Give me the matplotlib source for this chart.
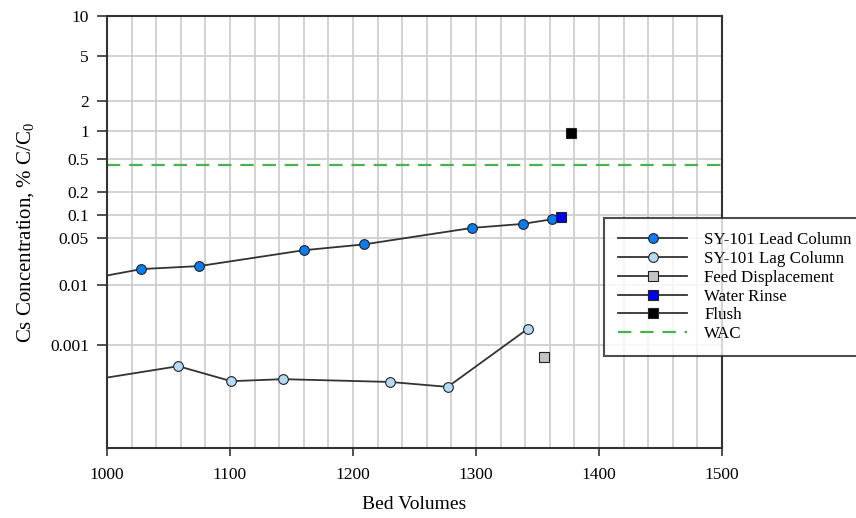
import math
import numpy as np
import matplotlib
matplotlib.use("Agg")
import matplotlib.pyplot as plt
from matplotlib.ticker import FixedLocator, MultipleLocator, NullFormatter

plt.rcParams["font.family"] = ["Liberation Serif", "DejaVu Serif"]
plt.rcParams["mathtext.fontset"] = "custom"
plt.rcParams["mathtext.rm"] = "Liberation Serif"
plt.rcParams["mathtext.it"] = "Liberation Serif:italic"

# ---- data (Cs concentration in % C/C0 vs bed volumes) ----
lead_bv = [1000, 1028, 1075, 1160, 1209, 1297, 1338, 1362]
lead_pct = [0.0139, 0.0174, 0.0193, 0.033, 0.040, 0.068, 0.077, 0.089]

lag_bv = [1000, 1058, 1101, 1143, 1230, 1277, 1342]
lag_pct = [0.000255, 0.000415, 0.000218, 0.000238, 0.000211, 0.00017, 0.0019]

feed_bv = [1355]
feed_pct = [0.00061]

rinse_bv = [1369]
rinse_pct = [0.094]

flush_bv = [1377]
flush_pct = [0.95]

wac_pct = 0.42

y_ticks = [0.001, 0.01, 0.05, 0.1, 0.2, 0.5, 1, 2, 5, 10]
y_tick_labels = ["0.001", "0.01", "0.05", "0.1", "0.2", "0.5", "1", "2", "5", "10"]
x_ticks = [1000, 1100, 1200, 1300, 1400, 1500]


# ---- normal-probability axis (percent -> standard normal quantile) ----
def _ppf_scalar(p):
    a = [-3.969683028665376e+01, 2.209460984245205e+02, -2.759285104469687e+02,
         1.383577518672690e+02, -3.066479806614716e+01, 2.506628277459239e+00]
    b = [-5.447609879822406e+01, 1.615858368580409e+02, -1.556989798598866e+02,
         6.680131188771972e+01, -1.328068155288572e+01]
    c = [-7.784894002430293e-03, -3.223964580411365e-01, -2.400758277161838e+00,
         -2.549671348283254e+00, 4.374664141464968e+00, 2.938163982698783e+00]
    d = [7.784695709041462e-03, 3.224671290700398e-01, 2.445134137142996e+00,
         3.754408181773592e+00]
    plow = 0.02425
    if p < plow:
        q = math.sqrt(-2 * math.log(p))
        x = (((((c[0]*q + c[1])*q + c[2])*q + c[3])*q + c[4])*q + c[5]) / \
            ((((d[0]*q + d[1])*q + d[2])*q + d[3])*q + 1)
    elif p > 1 - plow:
        q = math.sqrt(-2 * math.log(1 - p))
        x = -(((((c[0]*q + c[1])*q + c[2])*q + c[3])*q + c[4])*q + c[5]) / \
            ((((d[0]*q + d[1])*q + d[2])*q + d[3])*q + 1)
    else:
        q = p - 0.5
        r = q * q
        x = (((((a[0]*r + a[1])*r + a[2])*r + a[3])*r + a[4])*r + a[5]) * q / \
            (((((b[0]*r + b[1])*r + b[2])*r + b[3])*r + b[4])*r + 1)
    # one Newton refinement step
    e = 0.5 * math.erfc(-x / math.sqrt(2)) - p
    u = e * math.sqrt(2 * math.pi) * math.exp(x * x / 2)
    return x - u / (1 + x * u / 2)


_ppf = np.vectorize(_ppf_scalar, otypes=[float])
_erfc = np.vectorize(math.erfc, otypes=[float])


def pct_to_z(v):
    p = np.clip(np.asarray(v, dtype=float) / 100.0, 1e-15, 1 - 1e-15)
    return _ppf(p)


def z_to_pct(z):
    z = np.asarray(z, dtype=float)
    return 100.0 * 0.5 * _erfc(-z / math.sqrt(2))


# ---- figure ----
fig = plt.figure(figsize=(8.56, 5.18), dpi=100)
ax = fig.add_axes([107 / 856, 1 - 448 / 518, (722 - 107) / 856, (448 - 16) / 518])
ax.set_yscale("function", functions=(pct_to_z, z_to_pct))
ax.set_ylim(1e-5, 10)
ax.set_xlim(1000, 1500)

ax.yaxis.set_major_locator(FixedLocator(y_ticks))
ax.set_yticklabels(y_tick_labels)
ax.yaxis.set_minor_locator(FixedLocator([]))
ax.yaxis.set_minor_formatter(NullFormatter())

ax.xaxis.set_major_locator(FixedLocator(x_ticks))
ax.xaxis.set_minor_locator(MultipleLocator(20))
ax.set_xticklabels([str(t) for t in x_ticks])

grid_kw = dict(color="#cfcfcf", linewidth=1.3)
ax.grid(True, axis="x", which="both", **grid_kw)
ax.grid(True, axis="y", which="major", **grid_kw)
ax.set_axisbelow(True)

ax.tick_params(axis="both", which="major", direction="out", width=1.2,
               labelsize=12.5, color="#333333")
ax.tick_params(axis="y", which="major", length=7, pad=6)
ax.tick_params(axis="x", which="major", length=6, pad=8)
ax.tick_params(axis="x", which="minor", length=0)
for s in ax.spines.values():
    s.set_color("#333333")
    s.set_linewidth(1.5)

line_kw = dict(color="#333333", linewidth=1.3)
mk_kw = dict(markeredgecolor="#222222", markeredgewidth=0.8)

ax.plot(lead_bv, lead_pct, marker="o", markersize=7, markerfacecolor="#0a7cf0",
        markevery=list(range(1, len(lead_bv))), label="SY-101 Lead Column",
        zorder=3, **line_kw, **mk_kw)
ax.plot(lag_bv, lag_pct, marker="o", markersize=7, markerfacecolor="#b4daf5",
        markevery=list(range(1, len(lag_bv))), label="SY-101 Lag Column",
        zorder=3, **line_kw, **mk_kw)
ax.plot(feed_bv, feed_pct, marker="s", markersize=7, markerfacecolor="#c4c4c4",
        label="Feed Displacement", zorder=4, **line_kw, **mk_kw)
ax.plot(rinse_bv, rinse_pct, marker="s", markersize=7, markerfacecolor="#0000ee",
        label="Water Rinse", zorder=4, **line_kw, **mk_kw)
ax.plot(flush_bv, flush_pct, marker="s", markersize=7, markerfacecolor="#000000",
        label="Flush", zorder=4, **line_kw, **mk_kw)
ax.axhline(wac_pct, color="#4caf50", linewidth=1.6, dashes=(6, 4), label="WAC",
           zorder=2)

ax.set_xlabel("Bed Volumes", fontsize=14, labelpad=9)
ax.set_ylabel("Cs Concentration, % C/C$_\\mathregular{0}$", fontsize=15, labelpad=10)

leg = fig.legend(loc="upper left",
                 bbox_to_anchor=(604 / 856, 1 - 218 / 518, 270 / 856, 0.0),
                 mode="expand", frameon=True, fancybox=False, fontsize=12.2,
                 handlelength=4.1, handletextpad=1.0, labelspacing=0.17,
                 borderpad=0.82, borderaxespad=0.0)
leg.get_frame().set_edgecolor("#222222")
leg.get_frame().set_linewidth(1.5)

fig.savefig("out.png", dpi=100)
